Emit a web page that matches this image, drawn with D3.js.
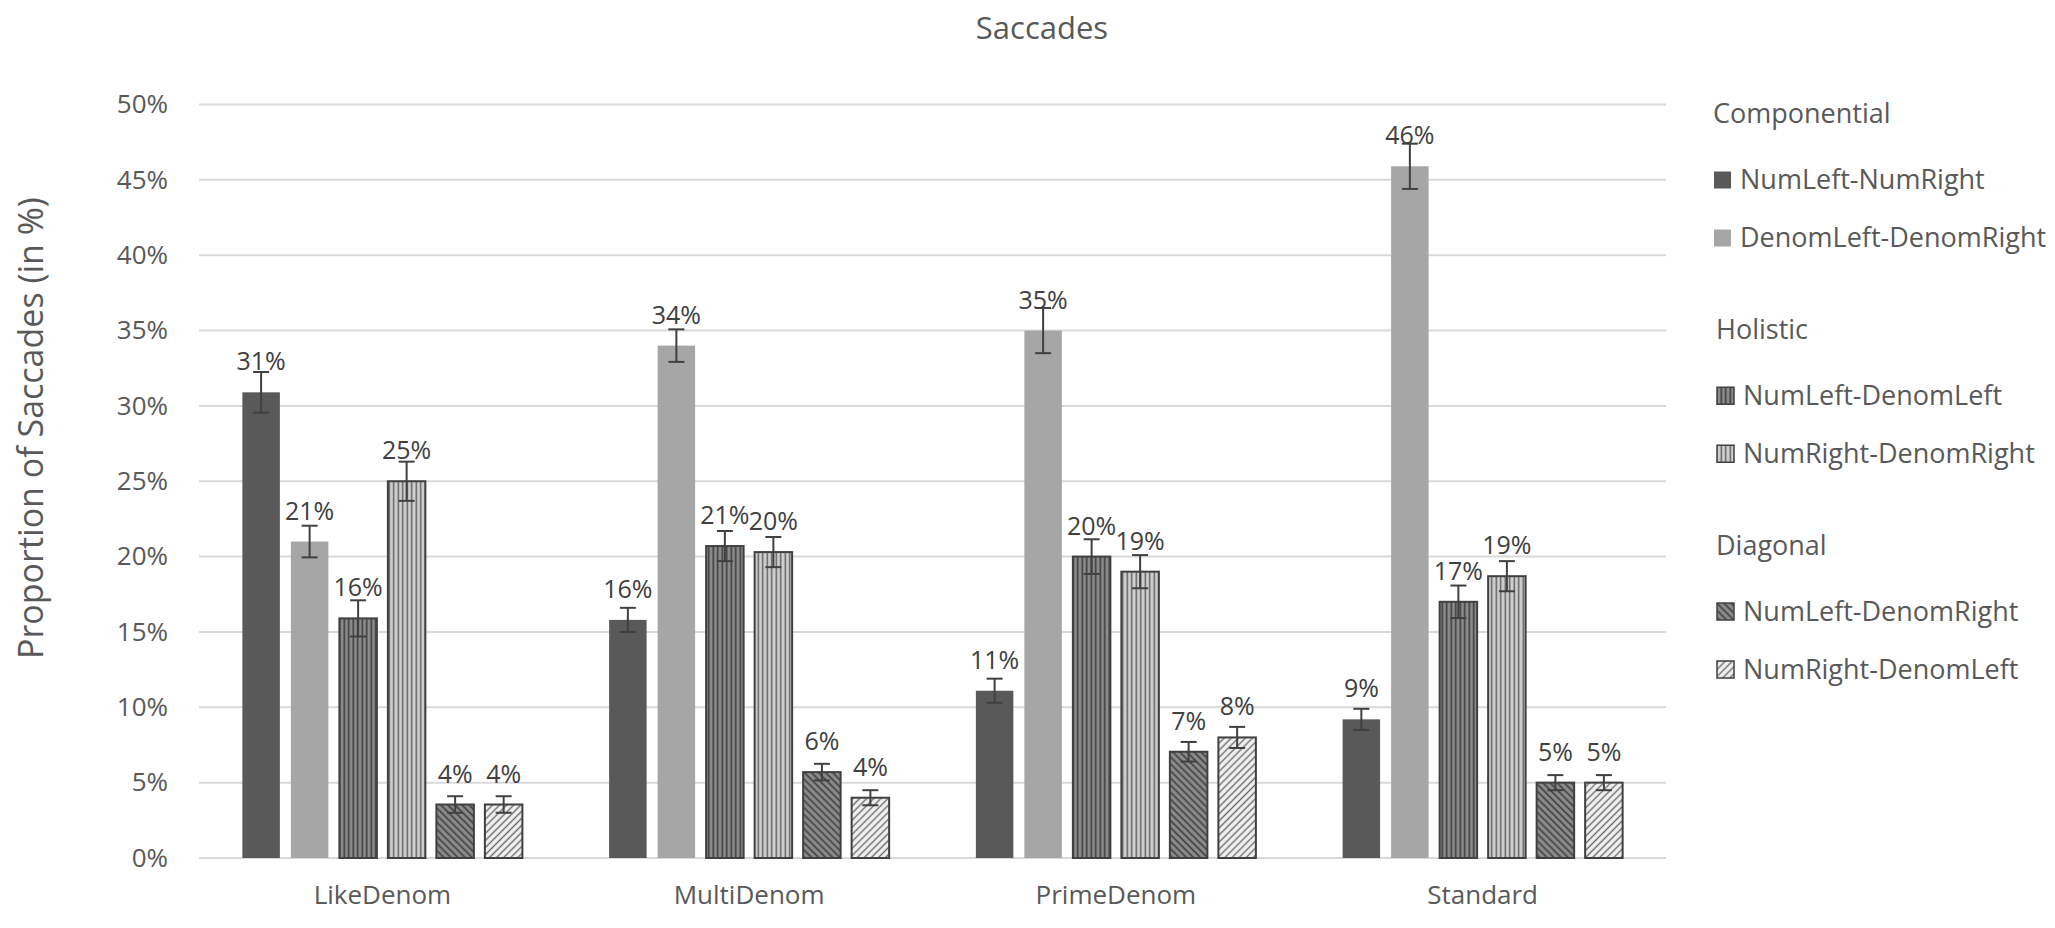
<!DOCTYPE html>
<html>
<head>
<meta charset="utf-8">
<script src="https://cdn.jsdelivr.net/npm/d3@7"></script>
<style>
  body { margin: 0; background: #fff; }
  text { font-family: "Open Sans", "Noto Sans", sans-serif; }
</style>
</head>
<body>
<script>
//=== Data ===
const categories = ["LikeDenom", "MultiDenom", "PrimeDenom", "Standard"]
const seriesNames = ["NumLeft-NumRight", "DenomLeft-DenomRight", "NumLeft-DenomLeft",
                     "NumRight-DenomRight", "NumLeft-DenomRight", "NumRight-DenomLeft"]
const legendGroups = ["Componential", "Holistic", "Diagonal"]
const yTicks = [0, 5, 10, 15, 20, 25, 30, 35, 40, 45, 50]

// values in %, one array per series (LikeDenom, MultiDenom, PrimeDenom, Standard)
const numLeftNumRight     = [30.9, 15.8, 11.1, 9.2]
const denomLeftDenomRight = [21.0, 34.0, 35.0, 45.9]
const numLeftDenomLeft    = [15.9, 20.7, 20.0, 17.0]
const numRightDenomRight  = [25.0, 20.3, 19.0, 18.7]
const numLeftDenomRight   = [3.55, 5.7, 7.05, 5.0]
const numRightDenomLeft   = [3.55, 4.0, 8.0, 5.0]

// error bar half-widths in %
const errNumLeftNumRight     = [1.35, 0.8, 0.8, 0.7]
const errDenomLeftDenomRight = [1.05, 1.08, 1.5, 1.5]
const errNumLeftDenomLeft    = [1.2, 1.0, 1.15, 1.08]
const errNumRightDenomRight  = [1.3, 1.0, 1.1, 1.0]
const errNumLeftDenomRight   = [0.55, 0.55, 0.65, 0.5]
const errNumRightDenomLeft   = [0.55, 0.5, 0.7, 0.5]

const values = [numLeftNumRight, denomLeftDenomRight, numLeftDenomLeft,
                numRightDenomRight, numLeftDenomRight, numRightDenomLeft]
const errors = [errNumLeftNumRight, errDenomLeftDenomRight, errNumLeftDenomLeft,
                errNumRightDenomRight, errNumLeftDenomRight, errNumRightDenomLeft]

//=== Layout ===
const W = 2055, H = 928
const plot = { left: 199, right: 1666, top: 104.5, bottom: 858 }

const svg = d3.select("body").append("svg")
    .attr("width", W)
    .attr("height", H)

// patterns for the striped bars
const defs = svg.append("defs")
function stripes(id, bg, fg, angle, gap, lw) {
    const p = defs.append("pattern")
        .attr("id", id)
        .attr("patternUnits", "userSpaceOnUse")
        .attr("width", gap).attr("height", gap)
        .attr("patternTransform", "rotate(" + angle + ")")
    p.append("rect").attr("width", gap).attr("height", gap).attr("fill", bg)
    p.append("line")
        .attr("x1", gap / 2).attr("x2", gap / 2)
        .attr("y1", 0).attr("y2", gap)
        .attr("stroke", fg).attr("stroke-width", lw)
}
stripes("vdark", "#8c8c8c", "#3c3c3c", 0, 4.5, 1.6)
stripes("vlight", "#cfcfcf", "#5a5a5a", 0, 4.5, 1.4)
stripes("ddark", "#8c8c8c", "#3c3c3c", -45, 5, 1.6)
stripes("dlight", "#f2f2f2", "#6a6a6a", 45, 5, 1.4)

const fills = ["#595959", "#a6a6a6", "url(#vdark)", "url(#vlight)", "url(#ddark)", "url(#dlight)"]
const strokes = [null, null, "#404040", "#404040", "#404040", "#404040"]

//=== Scales ===
const x0 = d3.scaleBand()
    .domain(categories)
    .range([plot.left, plot.right])

const x1 = d3.scaleBand()
    .domain(seriesNames)
    .range([0, x0.bandwidth()])
    .paddingInner(0.227)
    .paddingOuter(0.894)

const y = d3.scaleLinear()
    .domain([0, 50])
    .range([plot.bottom, plot.top])

// gridlines
svg.append("g")
    .selectAll("line")
    .data(yTicks)
    .enter()
    .append("line")
    .attr("x1", plot.left).attr("x2", plot.right)
    .attr("y1", d => y(d)).attr("y2", d => y(d))
    .attr("stroke", "#d9d9d9")
    .attr("stroke-width", 2)

// Y axis labels
const yAxis = svg.append("g")
    .attr("transform", "translate(" + (plot.left - 31) + ",0)")
    .call(d3.axisLeft(y).tickValues(yTicks).tickSize(0).tickPadding(0).tickFormat(d => d + "%"))
yAxis.select(".domain").remove()
yAxis.selectAll("text")
    .attr("font-size", 26)
    .attr("fill", "#595959")
    .style("font-family", "'Open Sans', sans-serif")

// X axis labels
const xAxis = svg.append("g")
    .attr("transform", "translate(0," + plot.bottom + ")")
    .call(d3.axisBottom(x0).tickSize(0).tickPadding(28))
xAxis.select(".domain").remove()
xAxis.selectAll("text")
    .attr("font-size", 26)
    .attr("fill", "#595959")
    .style("font-family", "'Open Sans', sans-serif")

//=== Bars ===
const rows = []
categories.forEach((c, ci) => {
    seriesNames.forEach((s, si) => {
        rows.push({ cat: c, series: s, si: si, v: values[si][ci], e: errors[si][ci] })
    })
})

const bars = svg.append("g")
bars.selectAll("rect")
    .data(rows)
    .enter()
    .append("rect")
    .attr("x", d => x0(d.cat) + x1(d.series))
    .attr("y", d => y(d.v))
    .attr("width", x1.bandwidth())
    .attr("height", d => y(0) - y(d.v))
    .attr("fill", d => fills[d.si])
    .attr("stroke", d => strokes[d.si])
    .attr("stroke-width", 2)

// error bars
const eb = svg.append("g")
    .attr("stroke", "#404040")
    .attr("stroke-width", 2)
    .selectAll("g")
    .data(rows)
    .enter()
    .append("g")
    .attr("transform", d => "translate(" + (x0(d.cat) + x1(d.series) + x1.bandwidth() / 2) + ",0)")
eb.append("line")
    .attr("y1", d => y(d.v + d.e)).attr("y2", d => y(d.v - d.e))
eb.append("line")
    .attr("x1", -8).attr("x2", 8)
    .attr("y1", d => y(d.v + d.e)).attr("y2", d => y(d.v + d.e))
eb.append("line")
    .attr("x1", -8).attr("x2", 8)
    .attr("y1", d => y(d.v - d.e)).attr("y2", d => y(d.v - d.e))

// data labels
svg.append("g")
    .selectAll("text")
    .data(rows)
    .enter()
    .append("text")
    .attr("x", d => x0(d.cat) + x1(d.series) + x1.bandwidth() / 2)
    .attr("y", d => y(d.v) - 22)
    .attr("text-anchor", "middle")
    .attr("font-size", 25)
    .attr("fill", "#404040")
    .text(d => Math.round(d.v) + "%")

// title
svg.append("text")
    .attr("x", 1042)
    .attr("y", 39)
    .attr("text-anchor", "middle")
    .attr("font-size", 31)
    .attr("fill", "#595959")
    .text("Saccades")

// Y axis title
svg.append("text")
    .attr("transform", "translate(43,659) rotate(-90)")
    .attr("text-anchor", "start")
    .attr("font-size", 34)
    .attr("fill", "#595959")
    .text("Proportion of Saccades (in %)")

//=== Legend ===
const legend = svg.append("g")
legendGroups.forEach((g, gi) => {
    const top = 114 + gi * 215.75
    const lx = gi === 0 ? 1713 : 1716
    legend.append("text")
        .attr("x", lx)
        .attr("y", top)
        .attr("dy", "0.35em")
        .attr("font-size", 27)
        .attr("fill", "#595959")
        .text(g)
    ;[0, 1].forEach(k => {
        const si = gi * 2 + k
        const cy = top + (k === 0 ? 66 : 124)
        legend.append("rect")
            .attr("x", lx + 1)
            .attr("y", cy - 8.5)
            .attr("width", 17)
            .attr("height", 17)
            .attr("fill", fills[si])
            .attr("stroke", strokes[si])
            .attr("stroke-width", 1.5)
        legend.append("text")
            .attr("x", lx + 27)
            .attr("y", cy)
            .attr("dy", "0.35em")
            .attr("font-size", 27)
            .attr("fill", "#595959")
            .text(seriesNames[si])
    })
})
</script>
</body>
</html>
